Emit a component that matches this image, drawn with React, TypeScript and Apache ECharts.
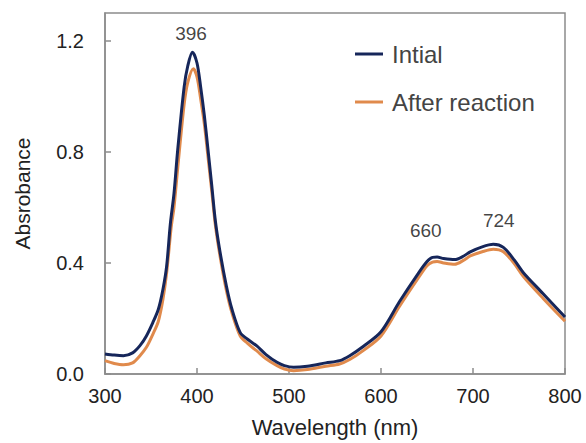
import React, { useEffect, useRef } from "react";
import * as echarts from "echarts";

// Wavelength (nm) and absorbance values
const initialWavelength = [300, 310, 320, 330, 338, 345, 352, 358, 363, 367, 371, 375, 379, 386, 390, 395, 400, 404, 408, 412, 416, 420, 425, 432, 438, 447, 455, 465, 475, 487, 495, 505, 520, 540, 555, 566, 581, 600, 620, 640, 650, 656, 661, 668, 680, 690, 697, 710, 722, 733, 745, 755, 776, 800];
const initialAbs = [0.072, 0.068, 0.066, 0.076, 0.102, 0.137, 0.185, 0.233, 0.305, 0.388, 0.54, 0.65, 0.806, 1.033, 1.11, 1.159, 1.12, 1.033, 0.93, 0.806, 0.68, 0.55, 0.44, 0.316, 0.233, 0.149, 0.125, 0.101, 0.07, 0.042, 0.03, 0.024, 0.028, 0.04, 0.048, 0.066, 0.1, 0.152, 0.26, 0.36, 0.405, 0.42, 0.421, 0.416, 0.412, 0.425, 0.44, 0.458, 0.467, 0.456, 0.41, 0.364, 0.29, 0.205];

const afterWavelength = [300, 310, 320, 330, 338, 345, 352, 358, 363, 367, 372, 375, 379, 386, 390, 396, 400, 404, 408, 412, 416, 420, 425, 432, 438, 447, 455, 465, 475, 487, 495, 505, 520, 540, 555, 566, 581, 600, 620, 640, 650, 656, 661, 668, 680, 690, 697, 710, 722, 733, 745, 755, 776, 800];
const afterAbs = [0.048, 0.038, 0.033, 0.04, 0.066, 0.096, 0.143, 0.19, 0.269, 0.364, 0.53, 0.6, 0.74, 0.97, 1.05, 1.099, 1.07, 0.99, 0.9, 0.78, 0.66, 0.535, 0.425, 0.3, 0.22, 0.137, 0.11, 0.083, 0.055, 0.03, 0.018, 0.012, 0.016, 0.028, 0.036, 0.052, 0.085, 0.137, 0.243, 0.343, 0.39, 0.403, 0.405, 0.4, 0.395, 0.41, 0.425, 0.44, 0.449, 0.44, 0.397, 0.35, 0.273, 0.19];

const peakLabels = ["396", "660", "724"];
const peakLabelX = [393.5, 648.7, 728];
const peakLabelY = [1.225, 0.517, 0.553];

const seriesNames = ["Intial", "After reaction"];
const seriesColors = ["#16265a", "#e08a4c"];

const xTicks = { min: 300, max: 800, interval: 100 };
const yTicks = { min: 0, max: 1.3, interval: 0.4 };

const FONT = "Liberation Sans, Arial, Helvetica, sans-serif";

export default function App() {
  const ref = useRef<HTMLDivElement>(null);
  useEffect(() => {
    if (!ref.current) return;
    const chart = echarts.init(ref.current, undefined, { renderer: "svg" });
    const toPairs = (xs: number[], ys: number[]) => xs.map((x, i) => [x, ys[i]]);
    chart.setOption({
      animation: false,
      textStyle: { fontFamily: FONT },
      grid: {
        left: 105,
        right: 21,
        top: 13,
        bottom: 68,
        show: true,
        borderColor: "#8c8c8c",
        borderWidth: 1.5,
        backgroundColor: "transparent",
      },
      legend: {
        data: seriesNames,
        orient: "vertical",
        left: 350,
        top: 37,
        icon: "rect",
        itemWidth: 28,
        itemHeight: 3,
        itemGap: 24,
        textStyle: { fontSize: 24, color: "#444", fontFamily: FONT, padding: [0, 0, 0, 4] },
      },
      xAxis: {
        type: "value",
        min: xTicks.min,
        max: xTicks.max,
        interval: xTicks.interval,
        name: "Wavelength (nm)",
        nameLocation: "middle",
        nameGap: 42,
        nameTextStyle: { fontSize: 22, color: "#222", fontFamily: FONT },
        axisLine: { show: true, lineStyle: { color: "#8c8c8c", width: 1.5 } },
        axisTick: { show: true, inside: true, length: 6, lineStyle: { color: "#8c8c8c", width: 1.5 } },
        axisLabel: { fontSize: 20, color: "#222", margin: 12, fontFamily: FONT },
        splitLine: { show: false },
      },
      yAxis: {
        type: "value",
        min: yTicks.min,
        max: yTicks.max,
        interval: yTicks.interval,
        name: "Absrobance",
        nameLocation: "middle",
        nameRotate: 90,
        nameGap: 72,
        nameTextStyle: { fontSize: 21, color: "#222", fontFamily: FONT },
        axisLine: { show: true, lineStyle: { color: "#8c8c8c", width: 1.5 } },
        axisTick: { show: true, inside: true, length: 6, lineStyle: { color: "#8c8c8c", width: 1.5 } },
        axisLabel: {
          fontSize: 20,
          color: "#222",
          margin: 21,
          fontFamily: FONT,
          showMaxLabel: false,
          formatter: (v: number) => v.toFixed(1),
        },
        splitLine: { show: false },
      },
      series: [
        {
          name: seriesNames[1],
          type: "line",
          data: toPairs(afterWavelength, afterAbs),
          showSymbol: false,
          smooth: 0.3,
          lineStyle: { color: seriesColors[1], width: 3 },
          itemStyle: { color: seriesColors[1] },
          z: 2,
        },
        {
          name: seriesNames[0],
          type: "line",
          data: toPairs(initialWavelength, initialAbs),
          showSymbol: false,
          smooth: 0.3,
          lineStyle: { color: seriesColors[0], width: 3 },
          itemStyle: { color: seriesColors[0] },
          z: 3,
        },
        {
          name: "peaks",
          type: "scatter",
          symbolSize: 0,
          silent: true,
          data: peakLabels.map((t, i) => ({ value: [peakLabelX[i], peakLabelY[i]], name: t })),
          label: {
            show: true,
            position: "inside",
            formatter: (p: any) => p.name,
            fontSize: 19,
            color: "#111",
            textBorderWidth: 0,
            fontFamily: FONT,
          },
          z: 4,
        },
      ],
    });
    return () => chart.dispose();
  }, []);
  return <div ref={ref} style={{ width: 586, height: 443, position: "absolute", left: 0, top: 0 }} />;
}
